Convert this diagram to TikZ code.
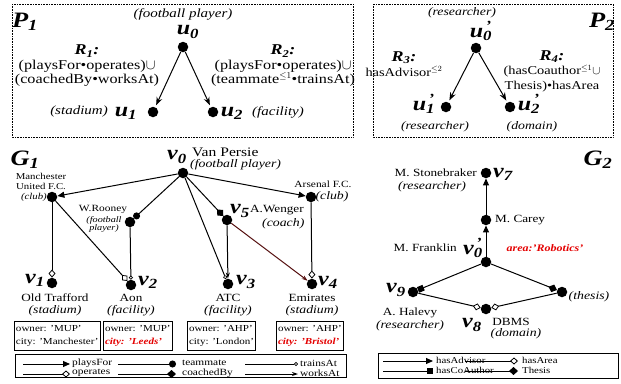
\documentclass[tikz,border=0pt]{standalone}
\usepackage{fontspec}
\setmainfont{Liberation Serif}[FakeStretch=1.2]
\usetikzlibrary{arrows.meta,positioning}
\definecolor{attrred}{RGB}{228,0,0}
\definecolor{worksbrown}{RGB}{85,15,15}
\newcommand{\nl}[2]{#1\textsubscript{#2}}
\newcommand{\nlp}[2]{#1\rlap{\textsuperscript{\,'}}\textsubscript{#2}}
\newcommand{\rname}[1]{{\fontsize{15}{15}\selectfont\bfseries\itshape R\textsubscript{#1}:}}

\begin{document}
\begin{tikzpicture}[x=1pt,y=-1pt,
    vdot/.style={circle, fill, inner sep=0pt, minimum size=10.5pt},
    lbl/.style={inner sep=0pt, font=\fontsize{20}{20}\selectfont\bfseries\itshape},
    glbl/.style={inner sep=0pt, font=\fontsize{22}{22}\selectfont\bfseries\itshape},
    ptxt/.style={inner sep=0pt, font=\fontsize{13.5}{14.5}\selectfont, align=center},
    ptyp/.style={inner sep=0pt, font=\fontsize{12.5}{14}\selectfont\itshape},
    qtxt/.style={inner sep=0pt, font=\fontsize{12}{14.5}\selectfont, align=center},
    qtyp/.style={inner sep=0pt, font=\fontsize{11.5}{14}\selectfont\itshape},
    gtxt/.style={inner sep=0pt, font=\fontsize{11}{12}\selectfont, align=center},
    gtyp/.style={inner sep=0pt, font=\fontsize{11.5}{12}\selectfont\itshape},
    smalltxt/.style={inner sep=0pt, font=\fontsize{9}{10}\selectfont, align=center},
    smalltyp/.style={inner sep=0pt, font=\fontsize{8.5}{8}\selectfont\itshape, align=center},
    patbox/.style={draw, densely dotted, line width=0.6pt},
    propbox/.style={draw, line width=1pt, anchor=north west, inner xsep=1.5pt, inner ysep=1pt, minimum height=29pt, font=\fontsize{9.2}{12.5}\selectfont, align=left},
    legbox/.style={draw, line width=1pt},
    legtxt/.style={inner sep=0pt, anchor=west, font=\fontsize{9.5}{10}\selectfont},
    leg2txt/.style={inner sep=0pt, anchor=west, font=\fontsize{9}{9}\selectfont},
    attr/.style={text=attrred, font=\fontsize{10}{12}\selectfont\bfseries\itshape},
    con/.style={line width=1pt},
    pat/.style={con, -{Stealth[length=8pt,width=6pt]}, shorten >=2pt},
    playsfor/.style={con, -{Triangle[length=7pt,width=6pt]}},
    operates/.style={con, -{Diamond[open,length=8pt,width=7pt,line width=0.8pt]}},
    teammate/.style={con, -{Circle[length=7pt]}},
    coachedby/.style={con, -{Diamond[length=9pt,width=8pt]}},
    trainsat/.style={con, -{Circle[open,length=4pt,line width=0.7pt]}},
    worksat/.style={con, -{Stealth[length=6pt,width=4pt]}},
    advisor/.style={playsfor},
    coauthor/.style={con, -{Square[length=6pt]}},
    hasarea/.style={operates},
    thesisof/.style={coachedby}]
    \useasboundingbox (0,0) rectangle (621,383);

    % pattern P1
    \draw[patbox] (12,4) rectangle (353,137);
    \node[glbl] (p1) at (25,22) {\nl{P}{1}};
    \node[ptyp] (u0t) at (183,14) {(football player)};
    \node[vdot] (u0) at (183,47) {};
    \node[vdot] (u1) at (153,112) {};
    \node[vdot] (u2) at (213,112) {};
    \node[lbl] (u0l) at (188,32) {\nl{u}{0}};
    \node[lbl] (u1l) at (126,113) {\nl{u}{1}};
    \node[lbl] (u2l) at (232,113) {\nl{u}{2}};
    \node[ptyp] (u1t) at (79,111) {(stadium)};
    \node[ptyp] (u2t) at (278,112) {(facility)};
    \node[ptxt] (r1) at (87,66) {\rname{1}\\(playsFor•operates)$\cup$\\(coachedBy•worksAt)};
    \node[ptxt] (r2) at (283,66) {\rname{2}\\(playsFor•operates)$\cup$\\(teammate$^{\le 1}$•trainsAt)};
    \draw[pat] (u0) -- (u1);
    \draw[pat] (u0) -- (u2);

    % pattern P2
    \draw[patbox] (373,4) rectangle (613,137);
    \node[glbl] (p2) at (602,22) {\nl{P}{2}};
    \node[qtyp] (up0t) at (462,13) {(researcher)};
    \node[vdot] (up0) at (476,48) {};
    \node[vdot] (up1) at (446,107) {};
    \node[vdot] (up2) at (510,107) {};
    \node[lbl] (up0l) at (481,31) {\nlp{u}{0}};
    \node[lbl] (up1l) at (424,104) {\nlp{u}{1}};
    \node[lbl] (up2l) at (529,104) {\nlp{u}{2}};
    \node[qtyp] (up1t) at (435,127) {(researcher)};
    \node[qtyp] (up2t) at (532,127) {(domain)};
    \node[qtxt] (r3) at (404,64) {\rname{3}\\hasAdvisor$^{\le 2}$};
    \node[qtxt] (r4) at (552,71) {\rname{4}\\(hasCoauthor$^{\le 1}\cup$\\Thesis)•hasArea};
    \draw[pat] (up0) -- (up1);
    \draw[pat] (up0) -- (up2);

    % data graph G1
    \node[glbl] (g1) at (25,160) {\nl{G}{1}};
    \node[vdot] (v0) at (183,173) {};
    \node[lbl] (v0l) at (177,157) {\nl{v}{0}};
    \node[gtxt, anchor=west, font=\fontsize{13}{13}\selectfont] (v0n) at (192,152) {Van Persie};
    \node[gtyp, anchor=west] (v0t) at (190,165) {(football player)};
    \node[vdot] (mu) at (52,197) {};
    \node[smalltxt] (mun) at (41,181) {Manchester\\United F.C.};
    \node[smalltyp, anchor=east, font=\fontsize{9}{9}\selectfont\itshape] (mut) at (47,197) {(club)};
    \node[vdot] (roo) at (130,222) {};
    \node[smalltxt, font=\fontsize{9.5}{10}\selectfont] (roon) at (103,209) {W.Rooney};
    \node[smalltyp] (root) at (104,224) {(football\\player)};
    \node[vdot] (ars) at (311,197) {};
    \node[smalltxt, font=\fontsize{9.5}{10}\selectfont] (arsn) at (323,184) {Arsenal F.C.};
    \node[gtyp] (arst) at (332,197) {(club)};
    \node[vdot] (v5) at (227,220) {};
    \node[lbl] (v5l) at (240,211) {\nl{v}{5}};
    \node[gtxt, anchor=west] (v5n) at (250,210) {A.Wenger};
    \node[gtyp, anchor=west] (v5t) at (262,224) {(coach)};
    \node[vdot] (v1) at (52,283) {};
    \node[lbl] (v1l) at (35,280) {\nl{v}{1}};
    \node[gtxt] (v1n) at (55,298) {Old Trafford};
    \node[gtyp] (v1t) at (55,311) {(stadium)};
    \node[vdot] (v2) at (131,285) {};
    \node[lbl] (v2l) at (148,282) {\nl{v}{2}};
    \node[gtxt] (v2n) at (131,298) {Aon};
    \node[gtyp] (v2t) at (131,311) {(facility)};
    \node[vdot] (v3) at (228,284) {};
    \node[lbl] (v3l) at (246,282) {\nl{v}{3}};
    \node[gtxt] (v3n) at (228,298) {ATC};
    \node[gtyp] (v3t) at (228,311) {(facility)};
    \node[vdot] (v4) at (312,284) {};
    \node[lbl] (v4l) at (328,282) {\nl{v}{4}};
    \node[gtxt] (v4n) at (312,298) {Emirates};
    \node[gtyp] (v4t) at (312,311) {(stadium)};

    \draw[playsfor] (v0) -- (mu);
    \draw[playsfor] (v0) -- (ars);
    \draw[teammate] (v0) -- (roo);
    \draw[coachedby] (v0) -- (v5);
    \draw[trainsat] (v0) -- (v3);
    \draw[operates] (mu) -- (v1);
    \draw[operates] (mu) -- (v2);
    \draw[trainsat] (roo) -- (v2);
    \draw[worksat] (v5) -- (v3);
    \draw[worksat, worksbrown] (v5) -- (v4);
    \draw[operates] (ars) -- (v4);

    % properties of v1..v4
    \node[propbox] (pv1) at (14,321) {owner: 'MUP'\\city: 'Manchester'};
    \node[propbox] (pv2) at (103,321) {owner: 'MUP'\\{\color{attrred}\bfseries\itshape city: 'Leeds'}};
    \node[propbox] (pv3) at (187,321) {owner: 'AHP'\\city: 'London'};
    \node[propbox] (pv4) at (276,321) {owner: 'AHP'\\{\color{attrred}\bfseries\itshape city: 'Bristol'}};

    % legend G1
    \draw[legbox] (15,354) rectangle (346,377);
    \coordinate (la1) at (23,364);  \coordinate (lb1) at (70,364);
    \coordinate (la2) at (23,374);  \coordinate (lb2) at (70,374);
    \coordinate (la3) at (118,364); \coordinate (lb3) at (176,364);
    \coordinate (la4) at (118,374); \coordinate (lb4) at (176,374);
    \coordinate (la5) at (245,364); \coordinate (lb5) at (298,364);
    \coordinate (la6) at (245,374); \coordinate (lb6) at (298,374);
    \draw[playsfor] (la1) -- (lb1);
    \draw[operates] (la2) -- (lb2);
    \draw[teammate] (la3) -- (lb3);
    \draw[coachedby] (la4) -- (lb4);
    \draw[trainsat] (la5) -- (lb5);
    \draw[worksat] (la6) -- (lb6);
    \node[legtxt] (lt1) at (72,363) {playsFor};
    \node[legtxt] (lt2) at (72,373) {operates};
    \node[legtxt] (lt3) at (182,363) {teammate};
    \node[legtxt] (lt4) at (182,373) {coachedBy};
    \node[legtxt] (lt5) at (300,363) {trainsAt};
    \node[legtxt] (lt6) at (300,373) {worksAt};

    % data graph G2
    \node[glbl] (g2) at (598,160) {\nl{G}{2}};
    \node[vdot] (v7) at (486,173) {};
    \node[lbl] (v7l) at (503,174) {\nl{v}{7}};
    \node[gtxt, anchor=east] (v7n) at (477,173) {M. Stonebraker};
    \node[gtyp] (v7t) at (432,187) {(researcher)};
    \node[vdot] (v6) at (486,220) {};
    \node[gtxt, anchor=west] (v6n) at (495,220) {M. Carey};
    \node[vdot] (vp0) at (486,262) {};
    \node[lbl] (vp0l) at (473,248) {\nlp{v}{0}};
    \node[gtxt, anchor=east] (vp0n) at (457,248) {M. Franklin};
    \node[attr, inner sep=0pt] (vp0a) at (545,248) {area:'Robotics'};
    \node[vdot] (v9) at (413,292) {};
    \node[lbl] (v9l) at (396,290) {\nl{v}{9}};
    \node[gtxt] (v9n) at (410,313) {A. Halevy};
    \node[gtyp] (v9t) at (410,326) {(researcher)};
    \node[vdot] (th) at (562,292) {};
    \node[gtyp] (tht) at (589,297) {(thesis)};
    \node[vdot] (v8) at (486,309) {};
    \node[lbl] (v8l) at (472,325) {\nl{v}{8}};
    \node[gtxt] (v8n) at (511,322) {DBMS};
    \node[gtyp] (v8t) at (516,334) {(domain)};

    \draw[advisor] (vp0) -- (v6);
    \draw[advisor] (v6) -- (v7);
    \draw[coauthor] (vp0) -- (v9);
    \draw[thesisof] (vp0) -- (th);
    \draw[hasarea] (v9) -- (v8);
    \draw[hasarea] (th) -- (v8);

    % legend G2
    \draw[legbox] (378,353) rectangle (618,378);
    \coordinate (ma1) at (383,361); \coordinate (mb1) at (433,361);
    \coordinate (ma2) at (383,371); \coordinate (mb2) at (433,371);
    \coordinate (ma3) at (465,361); \coordinate (mb3) at (518,361);
    \coordinate (ma4) at (465,371); \coordinate (mb4) at (518,371);
    \draw[advisor] (ma1) -- (mb1);
    \draw[coauthor] (ma2) -- (mb2);
    \draw[hasarea] (ma3) -- (mb3);
    \draw[thesisof] (ma4) -- (mb4);
    \node[leg2txt] (mt1) at (436,360) {hasAdvisor};
    \node[leg2txt] (mt2) at (436,370) {hasCoAuthor};
    \node[leg2txt] (mt3) at (522,360) {hasArea};
    \node[leg2txt] (mt4) at (522,370) {Thesis};
\end{tikzpicture}
\end{document}
